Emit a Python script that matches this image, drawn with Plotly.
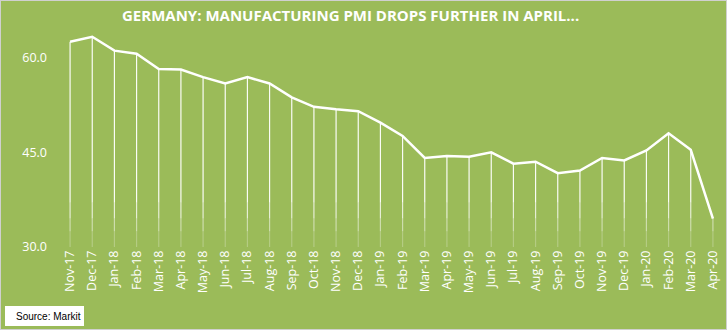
import plotly.graph_objects as go

months = ["Nov-17","Dec-17","Jan-18","Feb-18","Mar-18","Apr-18","May-18","Jun-18","Jul-18","Aug-18",
          "Sep-18","Oct-18","Nov-18","Dec-18","Jan-19","Feb-19","Mar-19","Apr-19","May-19","Jun-19",
          "Jul-19","Aug-19","Sep-19","Oct-19","Nov-19","Dec-19","Jan-20","Feb-20","Mar-20","Apr-20"]
pmi = [62.5, 63.3, 61.1, 60.6, 58.2, 58.1, 56.9, 55.9, 56.9, 55.9,
       53.7, 52.2, 51.8, 51.5, 49.7, 47.6, 44.1, 44.4, 44.3, 45.0,
       43.2, 43.5, 41.7, 42.1, 44.1, 43.7, 45.3, 48.0, 45.4, 34.5]
y_ticks = [30, 45, 60]
y_min, y_max = 30, 65

BG = "#9BBB59"
x = list(range(len(months)))

fig = go.Figure()
# vertical drop lines to the axis floor, fading towards the bottom
bands = [(37, 100, 0.95), (34.5, 37, 0.75), (32.5, 34.5, 0.5), (30, 32.5, 0.25)]
for lo, hi, op in bands:
    tops = [min(v, hi) for v in pmi]
    fig.add_trace(go.Scatter(
        x=x, y=tops, mode="markers", marker=dict(size=0.1, color="rgba(0,0,0,0)"),
        error_y=dict(type="data", symmetric=False, array=[0]*len(pmi),
                     arrayminus=[max(t - lo, 0) for t in tops],
                     color=f"rgba(255,255,255,{op})", thickness=1.2, width=0),
        hoverinfo="skip", showlegend=False))
fig.add_trace(go.Scatter(x=x, y=pmi, mode="lines", line=dict(color="white", width=2.5),
                         showlegend=False))

fig.update_layout(
    width=727, height=330, paper_bgcolor=BG, plot_bgcolor=BG,
    margin=dict(l=59, r=3, t=26, b=83),
    xaxis=dict(range=[-0.5, len(months) - 0.5], tickmode="array", tickvals=x, ticktext=months,
               tickangle=-90, showgrid=False, zeroline=False, showline=False,
               tickfont=dict(family="Open Sans", size=12.5, color="white"), ticks="", ticklen=0),
    yaxis=dict(range=[y_min, y_max], tickmode="array", tickvals=y_ticks,
               ticktext=[f"{v:.1f}" for v in y_ticks], showgrid=False, zeroline=False,
               showline=False, tickfont=dict(family="Open Sans", size=12.5, color="white"),
               ticks="", ticklabelstandoff=11),
    annotations=[
        dict(text="<b>GERMANY: MANUFACTURING PMI DROPS FURTHER IN APRIL...</b>", xref="paper", yref="paper",
             x=(350 - 59) / 665, y=1 + (26 - 15) / 221, xanchor="center", yanchor="middle",
             showarrow=False, font=dict(family="Open Sans", size=15, color="white")),
        dict(text="Source: Markit", xref="paper", yref="paper", x=-59 / 665 + 14 / 665,
             y=-(316 - 247) / 221, xanchor="left", yanchor="middle", showarrow=False,
             font=dict(family="Liberation Sans", size=10, color="black")),
    ],
    shapes=[
        dict(type="rect", xref="paper", yref="paper", x0=-54 / 665, x1=(84 - 59) / 665,
             y0=-(326 - 247) / 221, y1=-(306 - 247) / 221, fillcolor="white", line=dict(width=0),
             layer="below"),
        dict(type="rect", xref="paper", yref="paper", x0=-59 / 665, x1=1 + 3 / 665,
             y0=-83 / 221, y1=1 + 26 / 221, line=dict(color="#D0D0D0", width=2),
             fillcolor="rgba(0,0,0,0)"),
    ],
)
fig.write_html("out.html")
